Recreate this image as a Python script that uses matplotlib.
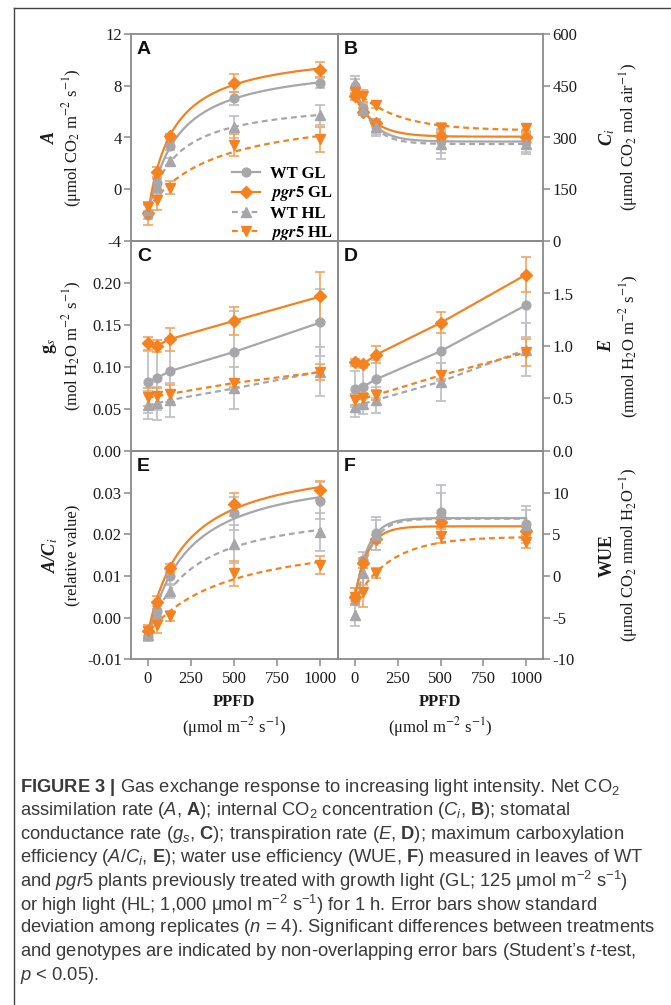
import matplotlib
matplotlib.use('Agg')
import matplotlib.pyplot as plt
from matplotlib.lines import Line2D
from matplotlib.font_manager import FontProperties
import numpy as np

# Data
ppfd = [0, 50, 125, 500, 1000]

# Panel A - net CO2 assimilation
A_wt_gl = [-2.0, 0.5, 3.35, 7.05, 8.2]
A_wt_gl_err = [0.3, 0.4, 0.3, 0.5, 0.4]
A_pgr5_gl = [-1.85, 1.35, 4.1, 8.2, 9.25]
A_pgr5_gl_err = [0.9, 0.4, 0.2, 0.7, 0.6]
A_wt_hl = [-1.6, 0.2, 2.15, 4.8, 5.75]
A_wt_hl_err = [0.4, 0.6, 0.3, 0.85, 0.8]
A_pgr5_hl = [-1.35, -0.8, 0.1, 3.4, 3.85]
A_pgr5_hl_err = [0.4, 0.8, 0.5, 0.85, 1.0]

# Panel B - Ci
B_wt_gl = [450, 385, 331, 290, 288]
B_wt_gl_err = [20, 15, 20, 35, 30]
B_pgr5_gl = [420, 375, 343, 304, 302]
B_pgr5_gl_err = [10, 10, 10, 12, 12]
B_wt_hl = [457, 380, 329, 281, 281]
B_wt_hl_err = [20, 15, 25, 42, 30]
B_pgr5_hl = [433, 420, 394, 327, 327]
B_pgr5_hl_err = [10, 18, 8, 15, 12]

# Panel C - gs
C_wt_gl = [0.0825, 0.0865, 0.095, 0.118, 0.153]
C_wt_gl_err = [0.037, 0.038, 0.04, 0.049, 0.04]
C_pgr5_gl = [0.128, 0.125, 0.133, 0.155, 0.184]
C_pgr5_gl_err = [0.008, 0.007, 0.014, 0.017, 0.029]
C_wt_hl = [0.0546, 0.0566, 0.0606, 0.0745, 0.0944]
C_wt_hl_err = [0.017, 0.02, 0.02, 0.025, 0.029]
C_pgr5_hl = [0.064, 0.065, 0.068, 0.081, 0.094]
C_pgr5_hl_err = [0.011, 0.01, 0.01, 0.005, 0.01]

# Panel D - E
D_wt_gl = [0.588, 0.614, 0.684, 0.95, 1.39]
D_wt_gl_err = [0.17, 0.18, 0.18, 0.28, 0.3]
D_pgr5_gl = [0.844, 0.83, 0.918, 1.22, 1.68]
D_pgr5_gl_err = [0.03, 0.03, 0.08, 0.1, 0.17]
D_wt_hl = [0.42, 0.45, 0.486, 0.66, 0.966]
D_wt_hl_err = [0.1, 0.1, 0.12, 0.18, 0.25]
D_pgr5_hl = [0.49, 0.50, 0.534, 0.72, 0.94]
D_pgr5_hl_err = [0.05, 0.05, 0.05, 0.03, 0.13]

# Panel E - A/Ci
E_wt_gl = [-0.0045, 0.0015, 0.0101, 0.025, 0.0281]
E_wt_gl_err = [0.001, 0.002, 0.002, 0.004, 0.0045]
E_pgr5_gl = [-0.0033, 0.00365, 0.0119, 0.0272, 0.0306]
E_pgr5_gl_err = [0.001, 0.0015, 0.001, 0.0027, 0.0023]
E_wt_hl = [-0.0041, 0.0007, 0.0063, 0.0177, 0.0206]
E_wt_hl_err = [0.001, 0.002, 0.0015, 0.0045, 0.0045]
E_pgr5_hl = [-0.0033, -0.0017, 0.0005, 0.0106, 0.0127]
E_pgr5_hl_err = [0.0015, 0.002, 0.0012, 0.003, 0.0022]

# Panel F - WUE
F_wt_gl = [-2.88, 1.9, 5.1, 7.7, 6.2]
F_wt_gl_err = [0.5, 1.0, 2.0, 3.2, 2.2]
F_pgr5_gl = [-2.5, 1.6, 4.4, 6.5, 5.4]
F_pgr5_gl_err = [1.0, 0.6, 0.5, 0.6, 0.5]
F_wt_hl = [-4.7, 0.4, 4.9, 7.5, 6.1]
F_wt_hl_err = [1.3, 1.5, 1.8, 2.5, 1.8]
F_pgr5_hl = [-2.5, -1.9, 0.3, 4.8, 4.1]
F_pgr5_hl_err = [1.0, 1.8, 0.6, 0.8, 0.7]

# Ticks
x_ticks = [0, 250, 500, 750, 1000]
A_ticks = [-4, 0, 4, 8, 12]
B_ticks = [0, 150, 300, 450, 600]
C_ticks = [0.00, 0.05, 0.10, 0.15, 0.20]
C_ticklabels = ['0.00', '0.05', '0.10', '0.15', '0.20']
D_ticks = [0.0, 0.5, 1.0, 1.5]
D_ticklabels = ['0.0', '0.5', '1.0', '1.5']
E_ticks = [-0.01, 0.00, 0.01, 0.02, 0.03]
E_ticklabels = ['-0.01', '0.00', '0.01', '0.02', '0.03']
F_ticks = [-10, -5, 0, 5, 10]

series_names = ['WT GL', r'$\boldsymbol{pgr5}$ GL', 'WT HL', r'$\boldsymbol{pgr5}$ HL']

caption_lines = [
    r'$\mathbf{FIGURE\ 3\ |}$ Gas exchange response to increasing light intensity. Net CO$_2$',
    r'assimilation rate ($A$, $\mathbf{A}$); internal CO$_2$ concentration ($C_i$, $\mathbf{B}$); stomatal',
    r'conductance rate ($g_s$, $\mathbf{C}$); transpiration rate ($E$, $\mathbf{D}$); maximum carboxylation',
    r'efficiency ($A/C_i$, $\mathbf{E}$); water use efficiency (WUE, $\mathbf{F}$) measured in leaves of WT',
    r'and $pgr5$ plants previously treated with growth light (GL; 125 μmol m$^{-2}$ s$^{-1}$)',
    r'or high light (HL; 1,000 μmol m$^{-2}$ s$^{-1}$) for 1 h. Error bars show standard',
    r'deviation among replicates ($n$ = 4). Significant differences between treatments',
    r'and genotypes are indicated by non-overlapping error bars (Student’s $t$-test,',
    r'$p$ < 0.05).',
]

# Styles
orange = '#f5821f'
gray = '#a6a6ab'
orange_err = '#f8a35a'
gray_err = '#bdbdc2'
frame_col = '#8a8a8a'
dash = (0, (2.6, 1.8))
styles = [
    dict(color=gray, ecolor=gray_err, ls='-', marker='o', ms=6.3),
    dict(color=orange, ecolor=orange_err, ls='-', marker='D', ms=5.8),
    dict(color=gray, ecolor=gray_err, ls=dash, marker='^', ms=6.8),
    dict(color=orange, ecolor=orange_err, ls=dash, marker='v', ms=6.8),
]

plt.rcParams['font.family'] = 'Liberation Serif'
plt.rcParams['mathtext.fontset'] = 'custom'
plt.rcParams['mathtext.rm'] = 'Liberation Sans'
plt.rcParams['mathtext.it'] = 'Liberation Sans:italic'
plt.rcParams['mathtext.bf'] = 'Liberation Sans:bold'
plt.rcParams['axes.unicode_minus'] = False

W, H = 671.0, 1005.0


def fig_x(px):
    return px / W


def fig_y(py):
    return 1 - py / H


# Light response fit: y = a + b*g(x), g is a saturating shape, grid search over its constant
def fit_curve(x, y, model):
    x = np.asarray(x, float)
    y = np.asarray(y, float)
    best = None
    for k in np.logspace(-4, 3.5, 900):
        if model == 'exp':
            g = 1 - np.exp(-x / k)
        else:
            g = x / (k + x)
        M = np.column_stack([np.ones_like(x), g])
        coef = np.linalg.lstsq(M, y, rcond=None)[0]
        err = np.sum((M @ coef - y) ** 2)
        if best is None or err < best[0]:
            best = (err, k, coef)
    _, k, coef = best
    xs = np.linspace(0, 1000, 300)
    if model == 'exp':
        gs = 1 - np.exp(-xs / k)
    else:
        gs = xs / (k + xs)
    return xs, coef[0] + coef[1] * gs


fig = plt.figure(figsize=(6.71, 10.05), dpi=100)

# Panel geometry in pixels (left, right, top, bottom)
col_px = [(130.7, 337.7), (337.7, 543.3)]
row_px = [(34, 241), (241, 451), (451, 659.3)]

panels = [
    dict(letter='A', data=[(A_wt_gl, A_wt_gl_err), (A_pgr5_gl, A_pgr5_gl_err), (A_wt_hl, A_wt_hl_err), (A_pgr5_hl, A_pgr5_hl_err)],
         ylim=(-4, 12), ticks=A_ticks, labels=[str(t) for t in A_ticks], fit='hyp',
         name='A', name_kw=dict(fontweight='bold', fontstyle='italic'),
         unit=r'(μmol CO$_2$ m$^{-2}$ s$^{-1}$)'),
    dict(letter='B', data=[(B_wt_gl, B_wt_gl_err), (B_pgr5_gl, B_pgr5_gl_err), (B_wt_hl, B_wt_hl_err), (B_pgr5_hl, B_pgr5_hl_err)],
         ylim=(0, 600), ticks=B_ticks, labels=[str(t) for t in B_ticks], fit='exp',
         name=r'C$_\mathit{i}$', name_kw=dict(fontweight='bold', fontstyle='italic'),
         unit=r'(μmol CO$_2$ mol air$^{-1}$)'),
    dict(letter='C', data=[(C_wt_gl, C_wt_gl_err), (C_pgr5_gl, C_pgr5_gl_err), (C_wt_hl, C_wt_hl_err), (C_pgr5_hl, C_pgr5_hl_err)],
         ylim=(0, 0.25), ticks=C_ticks, labels=C_ticklabels, fit=None,
         name=r'g$_\mathit{s}$', name_kw=dict(fontweight='bold'),
         unit=r'(mol H$_2$O m$^{-2}$ s$^{-1}$)'),
    dict(letter='D', data=[(D_wt_gl, D_wt_gl_err), (D_pgr5_gl, D_pgr5_gl_err), (D_wt_hl, D_wt_hl_err), (D_pgr5_hl, D_pgr5_hl_err)],
         ylim=(0, 2.0), ticks=D_ticks, labels=D_ticklabels, fit=None,
         name='E', name_kw=dict(fontweight='bold', fontstyle='italic'),
         unit=r'(mmol H$_2$O m$^{-2}$ s$^{-1}$)'),
    dict(letter='E', data=[(E_wt_gl, E_wt_gl_err), (E_pgr5_gl, E_pgr5_gl_err), (E_wt_hl, E_wt_hl_err), (E_pgr5_hl, E_pgr5_hl_err)],
         ylim=(-0.01, 0.04), ticks=E_ticks, labels=E_ticklabels, fit='hyp',
         name=r'A/C$_\mathit{i}$', name_kw=dict(fontweight='bold', fontstyle='italic'),
         unit='(relative value)'),
    dict(letter='F', data=[(F_wt_gl, F_wt_gl_err), (F_pgr5_gl, F_pgr5_gl_err), (F_wt_hl, F_wt_hl_err), (F_pgr5_hl, F_pgr5_hl_err)],
         ylim=(-10, 15), ticks=F_ticks, labels=[str(t) for t in F_ticks], fit='exp',
         name='WUE', name_kw=dict(fontweight='bold'),
         unit=r'(μmol CO$_2$ mmol H$_2$O$^{-1}$)'),
]

for i, p in enumerate(panels):
    row, col = divmod(i, 2)
    l, r = col_px[col]
    t, b = row_px[row]
    ax = fig.add_axes([fig_x(l), fig_y(b), (r - l) / W, (b - t) / H])
    ax.set_xlim(-100, 1100)
    ax.set_ylim(*p['ylim'])
    ax.set_facecolor('none')

    for (vals, errs), st in zip(p['data'], styles):
        ax.errorbar(ppfd, vals, yerr=errs, fmt='none', ecolor=st['ecolor'],
                    elinewidth=1.2, capsize=3.5, capthick=1.2, zorder=2)
        if p['fit']:
            xs, ys = fit_curve(ppfd, vals, p['fit'])
            ax.plot(xs, ys, color=st['color'], ls=st['ls'], lw=1.6, zorder=3)
            ax.plot(ppfd, vals, ls='none', marker=st['marker'], ms=st['ms'],
                    color=st['color'], zorder=4)
        else:
            ax.plot(ppfd, vals, ls=st['ls'], lw=1.6, marker=st['marker'], ms=st['ms'],
                    color=st['color'], zorder=4)

    # Frame
    for s in ax.spines.values():
        s.set_color(frame_col)
        s.set_linewidth(1.3)

    # Y ticks
    ax.set_yticks(p['ticks'])
    ax.set_yticklabels(p['labels'])
    ax.tick_params(axis='y', direction='out', length=5, width=1.1, color=frame_col,
                   labelsize=12, labelcolor='#1a1a1a', pad=1.5)
    if col == 1:
        ax.yaxis.tick_right()

    # X ticks only on the bottom row
    if row == 2:
        ax.set_xticks(x_ticks)
        ax.set_xticklabels([str(t) for t in x_ticks])
        ax.tick_params(axis='x', direction='out', length=5, width=1.1, color=frame_col,
                       labelsize=12, labelcolor='#1a1a1a', pad=3.5)
        cx = (l + r) / 2
        fig.text(fig_x(cx), fig_y(702), 'PPFD', ha='center', va='center',
                 fontsize=12, fontweight='bold', color='#1a1a1a')
        fig.text(fig_x(cx), fig_y(727), r'(μmol m$^{-2}$ s$^{-1}$)', ha='center', va='center',
                 fontsize=12, color='#1a1a1a', math_fontfamily='stix')
    else:
        ax.tick_params(axis='x', bottom=False, labelbottom=False)

    # Panel letter
    ax.text(0.03, 0.968, p['letter'], transform=ax.transAxes, ha='left', va='top',
            fontsize=14, fontweight='bold', family='Liberation Sans', color='#111111')

    # Axis titles
    cy = (t + b) / 2
    nx, ux = (50, 72) if col == 0 else (607, 629)
    fig.text(fig_x(nx), fig_y(cy), p['name'], rotation=90, ha='center', va='center',
             fontsize=13, color='#1a1a1a', math_fontfamily='stix', **p['name_kw'])
    fig.text(fig_x(ux), fig_y(cy), p['unit'], rotation=90, ha='center', va='center',
             fontsize=12, color='#1a1a1a', math_fontfamily='stix')

    if i == 0:
        handles = [Line2D([], [], color=st['color'], ls=st['ls'], lw=1.6,
                          marker=st['marker'], ms=st['ms']) for st in styles]
        leg_font = FontProperties(family='Liberation Serif', weight='bold', size=12,
                                  math_fontfamily='stix')
        ax.legend(handles, series_names, loc='upper left', bbox_to_anchor=(0.49, 0.362),
                  frameon=False, prop=leg_font, handlelength=1.7, handletextpad=0.6,
                  labelspacing=0.14, borderpad=0, borderaxespad=0)

# Outer figure border
fig.add_artist(Line2D([fig_x(14), fig_x(14)], [0, fig_y(8)], transform=fig.transFigure,
                      color='#444444', lw=1))
fig.add_artist(Line2D([fig_x(14), 1], [fig_y(8), fig_y(8)], transform=fig.transFigure,
                      color='#444444', lw=1))

# Caption
for j, line in enumerate(caption_lines):
    fig.text(fig_x(20), fig_y(787 + j * 23.5), line, ha='left', va='center',
             fontsize=13.2, family='Liberation Sans', color='#3a3a3a',
             math_fontfamily='custom')

fig.savefig('out.png', dpi=100)
